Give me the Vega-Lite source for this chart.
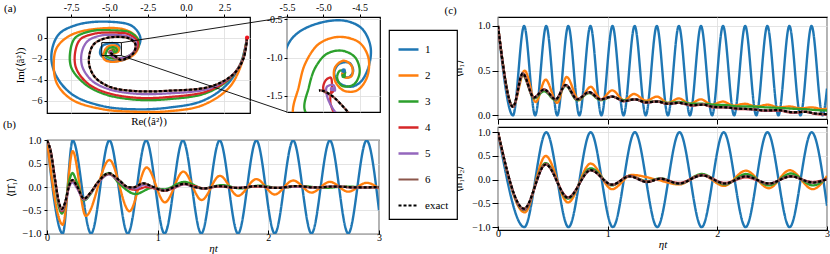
{
"$schema": "https://vega.github.io/schema/vega-lite/v6.json",
"padding": {"left": 2, "top": 1, "right": 0, "bottom": 0},
"autosize": {"type": "pad"},
"background": "white",
"config": {
  "font": "Liberation Serif",
  "view": {"stroke": "black", "strokeWidth": 1.2},
  "axis": {"domain": false, "grid": true, "gridColor": "#dddddd", "gridWidth": 0.8, "tickColor": "black", "tickSize": 3, "labelFont": "Liberation Serif", "labelFontSize": 10, "labelColor": "black", "titleFont": "Liberation Serif", "titleFontSize": 11, "titleFontWeight": "normal", "titleColor": "black", "labelPadding": 2, "labelFlush": false, "labelOverlap": false},
  "title": {"font": "Liberation Serif", "fontSize": 11, "fontWeight": "normal", "anchor": "start", "frame": "group", "offset": 3, "color": "black"},
  "legend": {"orient": "none", "legendX": 342, "legendY": 13, "strokeColor": "black", "strokeWidth": 1.2, "padding": 8, "fillColor": "white", "symbolType": "stroke", "symbolSize": 400, "symbolStrokeWidth": 2, "labelFont": "Liberation Serif", "labelFontSize": 11, "labelColor": "black", "rowPadding": 9, "labelOffset": 5, "cornerRadius": 0, "title": null}
},
"datasets": {
"spiral": [
{"s":"1","k":0,"re":3.98,"im":0},{"s":"1","k":1,"re":3.54,"im":-2.53},{"s":"1","k":2,"re":2.57,"im":-4.6},{"s":"1","k":3,"re":1.04,"im":-6.03},{"s":"1","k":4,"re":-1.13,"im":-6.66},{"s":"1","k":5,"re":-3.31,"im":-6.82},{"s":"1","k":6,"re":-5.48,"im":-6.5},{"s":"1","k":7,"re":-7.44,"im":-5.39},{"s":"1","k":8,"re":-8.52,"im":-3.49},{"s":"1","k":9,"re":-8.78,"im":-1.58},{"s":"1","k":10,"re":-8.3,"im":0.32},{"s":"1","k":11,"re":-7.0,"im":1.27},{"s":"1","k":12,"re":-5.04,"im":1.52},{"s":"1","k":13,"re":-3.52,"im":1.11},{"s":"1","k":14,"re":-2.98,"im":0},{"s":"1","k":15,"re":-3.2,"im":-1.11},{"s":"1","k":16,"re":-3.85,"im":-1.96},{"s":"1","k":17,"re":-4.83,"im":-2.22},{"s":"1","k":18,"re":-5.59,"im":-1.58},{"s":"1","k":19,"re":-5.5,"im":-0.86},{"s":"1","k":20,"re":-5.34,"im":-0.67},{"s":"1","k":21,"re":-5.02,"im":-0.54},{"s":"1","k":22,"re":-4.7,"im":-0.52},{"s":"1","k":23,"re":-4.47,"im":-0.62},{"s":"1","k":24,"re":-4.35,"im":-0.86},{"s":"1","k":25,"re":-4.38,"im":-1.13},{"s":"1","k":26,"re":-4.49,"im":-1.32},{"s":"1","k":27,"re":-4.62,"im":-1.38},{"s":"1","k":28,"re":-4.78,"im":-1.33},{"s":"1","k":29,"re":-4.85,"im":-1.2},{"s":"1","k":30,"re":-4.78,"im":-1.08},{"s":"1","k":31,"re":-4.64,"im":-1.07},{"s":"1","k":32,"re":-4.59,"im":-1.18},{"s":"1","k":33,"re":-4.66,"im":-1.26},{"s":"1","k":34,"re":-4.74,"im":-1.22},{"s":"1","k":35,"re":-4.72,"im":-1.19},
{"s":"2","k":0,"re":3.98,"im":0},{"s":"2","k":1,"re":3.61,"im":-2.53},{"s":"2","k":2,"re":2.78,"im":-4.8},{"s":"2","k":3,"re":1.04,"im":-6.45},{"s":"2","k":4,"re":-1.13,"im":-7.0},{"s":"2","k":5,"re":-3.31,"im":-7.05},{"s":"2","k":6,"re":-5.48,"im":-6.8},{"s":"2","k":7,"re":-7.44,"im":-5.9},{"s":"2","k":8,"re":-8.41,"im":-4.4},{"s":"2","k":9,"re":-8.63,"im":-2.5},{"s":"2","k":10,"re":-8.41,"im":-0.9},{"s":"2","k":11,"re":-7.44,"im":0.3},{"s":"2","k":12,"re":-5.48,"im":0.89},{"s":"2","k":13,"re":-3.96,"im":0.75},{"s":"2","k":14,"re":-3.2,"im":0},{"s":"2","k":15,"re":-3.09,"im":-0.79},{"s":"2","k":16,"re":-3.4,"im":-1.6},{"s":"2","k":17,"re":-4.07,"im":-2.1},{"s":"2","k":18,"re":-4.83,"im":-2.3},{"s":"2","k":19,"re":-5.3,"im":-2.1},{"s":"2","k":20,"re":-5.42,"im":-1.72},{"s":"2","k":21,"re":-5.34,"im":-1.39},{"s":"2","k":22,"re":-5.25,"im":-1.08},{"s":"2","k":23,"re":-5.06,"im":-0.82},{"s":"2","k":24,"re":-4.79,"im":-0.73},{"s":"2","k":25,"re":-4.51,"im":-0.8},{"s":"2","k":26,"re":-4.38,"im":-1.0},{"s":"2","k":27,"re":-4.4,"im":-1.26},{"s":"2","k":28,"re":-4.54,"im":-1.43},{"s":"2","k":29,"re":-4.72,"im":-1.43},{"s":"2","k":30,"re":-4.84,"im":-1.3},{"s":"2","k":31,"re":-4.84,"im":-1.13},{"s":"2","k":32,"re":-4.72,"im":-1.04},{"s":"2","k":33,"re":-4.61,"im":-1.11},{"s":"2","k":34,"re":-4.61,"im":-1.24},{"s":"2","k":35,"re":-4.7,"im":-1.26},{"s":"2","k":36,"re":-4.74,"im":-1.21},{"s":"2","k":37,"re":-4.72,"im":-1.19},
{"s":"3","k":0,"re":3.98,"im":0},{"s":"3","k":1,"re":3.61,"im":-2.3},{"s":"3","k":2,"re":2.78,"im":-4.0},{"s":"3","k":3,"re":1.26,"im":-5.3},{"s":"3","k":4,"re":-1.13,"im":-5.85},{"s":"3","k":5,"re":-3.31,"im":-5.9},{"s":"3","k":6,"re":-5.26,"im":-5.4},{"s":"3","k":7,"re":-6.57,"im":-4.44},{"s":"3","k":8,"re":-7.48,"im":-2.86},{"s":"3","k":9,"re":-7.55,"im":-1.27},{"s":"3","k":10,"re":-7.22,"im":0},{"s":"3","k":11,"re":-6.13,"im":0.64},{"s":"3","k":12,"re":-4.83,"im":0.7},{"s":"3","k":13,"re":-3.63,"im":0.48},{"s":"3","k":14,"re":-3.09,"im":-0.31},{"s":"3","k":15,"re":-3.2,"im":-1.11},{"s":"3","k":16,"re":-3.7,"im":-1.7},{"s":"3","k":17,"re":-4.3,"im":-1.95},{"s":"3","k":18,"re":-4.9,"im":-1.95},{"s":"3","k":19,"re":-5.25,"im":-1.7},{"s":"3","k":20,"re":-5.2,"im":-1.39},{"s":"3","k":21,"re":-5.11,"im":-1.13},{"s":"3","k":22,"re":-4.95,"im":-0.95},{"s":"3","k":23,"re":-4.74,"im":-0.91},{"s":"3","k":24,"re":-4.56,"im":-1.0},{"s":"3","k":25,"re":-4.5,"im":-1.19},{"s":"3","k":26,"re":-4.58,"im":-1.35},{"s":"3","k":27,"re":-4.74,"im":-1.37},{"s":"3","k":28,"re":-4.81,"im":-1.26},{"s":"3","k":29,"re":-4.77,"im":-1.17},{"s":"3","k":30,"re":-4.7,"im":-1.19},{"s":"3","k":31,"re":-4.72,"im":-1.24},
{"s":"4","k":0,"re":3.98,"im":0},{"s":"4","k":1,"re":3.65,"im":-2.2},{"s":"4","k":2,"re":2.89,"im":-3.8},{"s":"4","k":3,"re":1.37,"im":-5.1},{"s":"4","k":4,"re":-1.13,"im":-5.65},{"s":"4","k":5,"re":-3.31,"im":-5.71},{"s":"4","k":6,"re":-5.26,"im":-5.2},{"s":"4","k":7,"re":-6.46,"im":-4.3},{"s":"4","k":8,"re":-7.18,"im":-2.86},{"s":"4","k":9,"re":-7.22,"im":-1.27},{"s":"4","k":10,"re":-6.89,"im":-0.15},{"s":"4","k":11,"re":-5.91,"im":0.4},{"s":"4","k":12,"re":-4.83,"im":0.48},{"s":"4","k":13,"re":-3.74,"im":0.32},{"s":"4","k":14,"re":-3.15,"im":-0.4},{"s":"4","k":15,"re":-3.26,"im":-1.2},{"s":"4","k":16,"re":-3.8,"im":-1.8},{"s":"4","k":17,"re":-4.4,"im":-2.0},{"s":"4","k":18,"re":-4.75,"im":-1.85},{"s":"4","k":19,"re":-4.9,"im":-1.6},{"s":"4","k":20,"re":-4.88,"im":-1.35},{"s":"4","k":21,"re":-4.9,"im":-1.26},{"s":"4","k":22,"re":-4.97,"im":-1.3},{"s":"4","k":23,"re":-5.0,"im":-1.41},{"s":"4","k":24,"re":-4.93,"im":-1.48},{"s":"4","k":25,"re":-4.86,"im":-1.43},{"s":"4","k":26,"re":-4.88,"im":-1.4},
{"s":"5","k":0,"re":3.98,"im":0},{"s":"5","k":1,"re":3.7,"im":-2.1},{"s":"5","k":2,"re":3.0,"im":-3.6},{"s":"5","k":3,"re":1.48,"im":-4.85},{"s":"5","k":4,"re":-1.13,"im":-5.3},{"s":"5","k":5,"re":-3.31,"im":-5.33},{"s":"5","k":6,"re":-5.04,"im":-4.9},{"s":"5","k":7,"re":-6.13,"im":-4.1},{"s":"5","k":8,"re":-6.78,"im":-2.7},{"s":"5","k":9,"re":-6.78,"im":-1.27},{"s":"5","k":10,"re":-6.4,"im":-0.3},{"s":"5","k":11,"re":-5.59,"im":0.2},{"s":"5","k":12,"re":-4.72,"im":0.26},{"s":"5","k":13,"re":-3.74,"im":0.1},{"s":"5","k":14,"re":-3.26,"im":-0.5},{"s":"5","k":15,"re":-3.4,"im":-1.3},{"s":"5","k":16,"re":-3.9,"im":-1.85},{"s":"5","k":17,"re":-4.45,"im":-1.95},{"s":"5","k":18,"re":-4.8,"im":-1.75},{"s":"5","k":19,"re":-4.95,"im":-1.5},{"s":"5","k":20,"re":-4.95,"im":-1.38},{"s":"5","k":21,"re":-4.86,"im":-1.36},{"s":"5","k":22,"re":-4.84,"im":-1.43},{"s":"5","k":23,"re":-4.88,"im":-1.41},
{"s":"6","k":0,"re":3.98,"im":0},{"s":"6","k":1,"re":3.74,"im":-2.0},{"s":"6","k":2,"re":3.07,"im":-3.5},{"s":"6","k":3,"re":1.59,"im":-4.65},{"s":"6","k":4,"re":-1.13,"im":-5.05},{"s":"6","k":5,"re":-3.31,"im":-5.08},{"s":"6","k":6,"re":-4.94,"im":-4.7},{"s":"6","k":7,"re":-5.91,"im":-3.81},{"s":"6","k":8,"re":-6.3,"im":-2.7},{"s":"6","k":9,"re":-6.3,"im":-1.58},{"s":"6","k":10,"re":-6.02,"im":-0.63},{"s":"6","k":11,"re":-5.37,"im":-0.1},{"s":"6","k":12,"re":-4.61,"im":0.07},{"s":"6","k":13,"re":-3.74,"im":-0.06},{"s":"6","k":14,"re":-3.31,"im":-0.6},{"s":"6","k":15,"re":-3.4,"im":-1.4},{"s":"6","k":16,"re":-3.85,"im":-1.95},{"s":"6","k":17,"re":-4.3,"im":-2.1},{"s":"6","k":18,"re":-4.65,"im":-1.72},{"s":"6","k":19,"re":-4.88,"im":-1.5},{"s":"6","k":20,"re":-5.02,"im":-1.43},{"s":"6","k":21,"re":-5.06,"im":-1.43},
{"s":"exact","k":0,"re":3.98,"im":0},{"s":"exact","k":1,"re":3.74,"im":-2.0},{"s":"exact","k":2,"re":3.07,"im":-3.5},{"s":"exact","k":3,"re":1.59,"im":-4.65},{"s":"exact","k":4,"re":-1.13,"im":-5.05},{"s":"exact","k":5,"re":-3.31,"im":-5.08},{"s":"exact","k":6,"re":-4.94,"im":-4.7},{"s":"exact","k":7,"re":-5.91,"im":-3.81},{"s":"exact","k":8,"re":-6.3,"im":-2.7},{"s":"exact","k":9,"re":-6.3,"im":-1.58},{"s":"exact","k":10,"re":-6.02,"im":-0.63},{"s":"exact","k":11,"re":-5.37,"im":-0.1},{"s":"exact","k":12,"re":-4.61,"im":0.07},{"s":"exact","k":13,"re":-3.74,"im":-0.06},{"s":"exact","k":14,"re":-3.31,"im":-0.6},{"s":"exact","k":15,"re":-3.4,"im":-1.4},{"s":"exact","k":16,"re":-3.85,"im":-1.95},{"s":"exact","k":17,"re":-4.3,"im":-2.1},{"s":"exact","k":18,"re":-4.65,"im":-1.72},{"s":"exact","k":19,"re":-4.88,"im":-1.5},{"s":"exact","k":20,"re":-5.02,"im":-1.43},{"s":"exact","k":21,"re":-5.06,"im":-1.43}
],
"ends": [{"s":"1","re":-4.72,"im":-1.17},{"s":"3","re":-4.72,"im":-1.24},{"s":"5","re":-4.88,"im":-1.41}],
"pi": [
{"s":"1","t":0,"v":1},{"s":"1","t":0.142,"v":-1},{"s":"1","t":0.232,"v":1},{"s":"1","t":0.398,"v":-1},{"s":"1","t":0.564,"v":1},{"s":"1","t":0.73,"v":-1},{"s":"1","t":0.896,"v":1},{"s":"1","t":1.062,"v":-1},{"s":"1","t":1.228,"v":1},{"s":"1","t":1.394,"v":-1},{"s":"1","t":1.56,"v":1},{"s":"1","t":1.726,"v":-1},{"s":"1","t":1.892,"v":1},{"s":"1","t":2.058,"v":-1},{"s":"1","t":2.224,"v":1},{"s":"1","t":2.39,"v":-1},{"s":"1","t":2.556,"v":1},{"s":"1","t":2.722,"v":-1},{"s":"1","t":2.888,"v":1},{"s":"1","t":3,"v":-0.5},
{"s":"2","t":0,"v":1},{"s":"2","t":0.142,"v":-0.81},{"s":"2","t":0.232,"v":0.77},{"s":"2","t":0.35,"v":-0.62},{"s":"2","t":0.564,"v":0.58},{"s":"2","t":0.745,"v":-0.52},{"s":"2","t":0.9,"v":0.42},{"s":"2","t":1.065,"v":-0.33},{"s":"2","t":1.232,"v":0.33},{"s":"2","t":1.397,"v":-0.28},{"s":"2","t":1.562,"v":0.24},{"s":"2","t":1.726,"v":-0.19},{"s":"2","t":1.892,"v":0.17},{"s":"2","t":2.058,"v":-0.16},{"s":"2","t":2.224,"v":0.14},{"s":"2","t":2.39,"v":-0.12},{"s":"2","t":2.556,"v":0.11},{"s":"2","t":2.722,"v":-0.1},{"s":"2","t":2.888,"v":0.09},{"s":"2","t":3,"v":-0.03},
{"s":"3","t":0,"v":1},{"s":"3","t":0.035,"v":0.74},{"s":"3","t":0.07,"v":0.15},{"s":"3","t":0.105,"v":-0.4},{"s":"3","t":0.135,"v":-0.57},{"s":"3","t":0.165,"v":-0.35},{"s":"3","t":0.2,"v":0.12},{"s":"3","t":0.23,"v":0.3},{"s":"3","t":0.27,"v":0.1},{"s":"3","t":0.335,"v":-0.29},{"s":"3","t":0.39,"v":-0.16},{"s":"3","t":0.46,"v":0.1},{"s":"3","t":0.56,"v":0.3},{"s":"3","t":0.65,"v":0.08},{"s":"3","t":0.8,"v":-0.15},{"s":"3","t":0.95,"v":-0.02},{"s":"3","t":1.06,"v":-0.05},{"s":"3","t":1.24,"v":0.11},{"s":"3","t":1.42,"v":-0.03},{"s":"3","t":1.58,"v":0.04},{"s":"3","t":1.75,"v":-0.03},{"s":"3","t":1.92,"v":0.03},{"s":"3","t":2.1,"v":-0.02},{"s":"3","t":2.3,"v":0.02},{"s":"3","t":2.5,"v":-0.02},{"s":"3","t":2.7,"v":0.01},{"s":"3","t":2.9,"v":-0.01},{"s":"3","t":3,"v":0},
{"s":"4","t":0,"v":1},{"s":"4","t":0.035,"v":0.75},{"s":"4","t":0.07,"v":0.2},{"s":"4","t":0.105,"v":-0.32},{"s":"4","t":0.135,"v":-0.52},{"s":"4","t":0.165,"v":-0.35},{"s":"4","t":0.2,"v":0.02},{"s":"4","t":0.23,"v":0.15},{"s":"4","t":0.27,"v":0.0},{"s":"4","t":0.335,"v":-0.26},{"s":"4","t":0.39,"v":-0.14},{"s":"4","t":0.46,"v":0.1},{"s":"4","t":0.56,"v":0.28},{"s":"4","t":0.65,"v":0.12},{"s":"4","t":0.75,"v":-0.04},{"s":"4","t":0.8,"v":-0.06},{"s":"4","t":0.9,"v":0.0},{"s":"4","t":1.0,"v":-0.05},{"s":"4","t":1.06,"v":-0.08},{"s":"4","t":1.15,"v":-0.02},{"s":"4","t":1.24,"v":0.06},{"s":"4","t":1.33,"v":0.02},{"s":"4","t":1.42,"v":-0.03},{"s":"4","t":1.55,"v":0.01},{"s":"4","t":1.72,"v":-0.02},{"s":"4","t":1.9,"v":0.01},{"s":"4","t":2.07,"v":-0.02},{"s":"4","t":2.25,"v":0.01},{"s":"4","t":2.43,"v":-0.01},{"s":"4","t":2.6,"v":0.01},{"s":"4","t":2.8,"v":-0.01},{"s":"4","t":3,"v":-0.01},
{"s":"5","t":0,"v":1},{"s":"5","t":0.035,"v":0.75},{"s":"5","t":0.07,"v":0.2},{"s":"5","t":0.105,"v":-0.32},{"s":"5","t":0.135,"v":-0.5},{"s":"5","t":0.165,"v":-0.33},{"s":"5","t":0.2,"v":0.0},{"s":"5","t":0.23,"v":0.1},{"s":"5","t":0.27,"v":-0.02},{"s":"5","t":0.335,"v":-0.27},{"s":"5","t":0.39,"v":-0.14},{"s":"5","t":0.46,"v":0.08},{"s":"5","t":0.56,"v":0.27},{"s":"5","t":0.65,"v":0.13},{"s":"5","t":0.73,"v":-0.01},{"s":"5","t":0.8,"v":-0.03},{"s":"5","t":0.88,"v":0.05},{"s":"5","t":0.96,"v":-0.01},{"s":"5","t":1.06,"v":-0.07},{"s":"5","t":1.15,"v":-0.01},{"s":"5","t":1.24,"v":0.06},{"s":"5","t":1.33,"v":0.0},{"s":"5","t":1.42,"v":-0.03},{"s":"5","t":1.55,"v":0.02},{"s":"5","t":1.72,"v":-0.02},{"s":"5","t":1.9,"v":0.02},{"s":"5","t":2.07,"v":-0.02},{"s":"5","t":2.25,"v":0.01},{"s":"5","t":2.43,"v":-0.01},{"s":"5","t":2.6,"v":0.01},{"s":"5","t":2.8,"v":-0.01},{"s":"5","t":3,"v":0},
{"s":"6","t":0,"v":1},{"s":"6","t":0.035,"v":0.75},{"s":"6","t":0.07,"v":0.2},{"s":"6","t":0.105,"v":-0.3},{"s":"6","t":0.135,"v":-0.48},{"s":"6","t":0.165,"v":-0.32},{"s":"6","t":0.2,"v":0.03},{"s":"6","t":0.23,"v":0.14},{"s":"6","t":0.27,"v":0.02},{"s":"6","t":0.335,"v":-0.25},{"s":"6","t":0.39,"v":-0.13},{"s":"6","t":0.46,"v":0.1},{"s":"6","t":0.56,"v":0.28},{"s":"6","t":0.65,"v":0.15},{"s":"6","t":0.73,"v":0.0},{"s":"6","t":0.78,"v":-0.01},{"s":"6","t":0.87,"v":0.08},{"s":"6","t":0.96,"v":0.0},{"s":"6","t":1.06,"v":-0.08},{"s":"6","t":1.15,"v":0.0},{"s":"6","t":1.24,"v":0.07},{"s":"6","t":1.33,"v":0.0},{"s":"6","t":1.42,"v":-0.03},{"s":"6","t":1.55,"v":0.02},{"s":"6","t":1.72,"v":-0.02},{"s":"6","t":1.9,"v":0.02},{"s":"6","t":2.07,"v":-0.02},{"s":"6","t":2.25,"v":0.02},{"s":"6","t":2.43,"v":-0.01},{"s":"6","t":2.6,"v":0.01},{"s":"6","t":2.8,"v":-0.01},{"s":"6","t":3,"v":0},
{"s":"exact","t":0,"v":1},{"s":"exact","t":0.035,"v":0.75},{"s":"exact","t":0.07,"v":0.2},{"s":"exact","t":0.105,"v":-0.3},{"s":"exact","t":0.135,"v":-0.47},{"s":"exact","t":0.165,"v":-0.32},{"s":"exact","t":0.2,"v":0.03},{"s":"exact","t":0.23,"v":0.15},{"s":"exact","t":0.27,"v":0.02},{"s":"exact","t":0.335,"v":-0.25},{"s":"exact","t":0.39,"v":-0.13},{"s":"exact","t":0.46,"v":0.1},{"s":"exact","t":0.56,"v":0.3},{"s":"exact","t":0.65,"v":0.15},{"s":"exact","t":0.73,"v":0.0},{"s":"exact","t":0.78,"v":-0.01},{"s":"exact","t":0.87,"v":0.08},{"s":"exact","t":0.96,"v":0.0},{"s":"exact","t":1.06,"v":-0.08},{"s":"exact","t":1.15,"v":0.0},{"s":"exact","t":1.24,"v":0.07},{"s":"exact","t":1.33,"v":0.0},{"s":"exact","t":1.42,"v":-0.03},{"s":"exact","t":1.55,"v":0.02},{"s":"exact","t":1.72,"v":-0.02},{"s":"exact","t":1.9,"v":0.02},{"s":"exact","t":2.07,"v":-0.02},{"s":"exact","t":2.25,"v":0.02},{"s":"exact","t":2.43,"v":-0.01},{"s":"exact","t":2.6,"v":0.01},{"s":"exact","t":2.8,"v":-0.01},{"s":"exact","t":3,"v":0}
],
"n1": [
{"s":"1","t":0,"v":1},{"s":"1","t":0.137,"v":0},{"s":"1","t":0.238,"v":1},{"s":"1","t":0.339,"v":0},{"s":"1","t":0.44,"v":1},{"s":"1","t":0.54,"v":0},{"s":"1","t":0.641,"v":1},{"s":"1","t":0.742,"v":0},{"s":"1","t":0.843,"v":1},{"s":"1","t":0.943,"v":0},{"s":"1","t":1.044,"v":1},{"s":"1","t":1.145,"v":0},{"s":"1","t":1.246,"v":1},{"s":"1","t":1.347,"v":0},{"s":"1","t":1.448,"v":1},{"s":"1","t":1.549,"v":0},{"s":"1","t":1.649,"v":1},{"s":"1","t":1.75,"v":0},{"s":"1","t":1.851,"v":1},{"s":"1","t":1.952,"v":0},{"s":"1","t":2.052,"v":1},{"s":"1","t":2.153,"v":0},{"s":"1","t":2.254,"v":1},{"s":"1","t":2.355,"v":0},{"s":"1","t":2.456,"v":1},{"s":"1","t":2.557,"v":0},{"s":"1","t":2.657,"v":1},{"s":"1","t":2.758,"v":0},{"s":"1","t":2.859,"v":1},{"s":"1","t":2.96,"v":0},{"s":"1","t":3,"v":0.3},
{"s":"2","t":0,"v":1},{"s":"2","t":0.137,"v":0.1},{"s":"2","t":0.243,"v":0.5},{"s":"2","t":0.344,"v":0.15},{"s":"2","t":0.434,"v":0.4},{"s":"2","t":0.54,"v":0.14},{"s":"2","t":0.626,"v":0.43},{"s":"2","t":0.738,"v":0.17},{"s":"2","t":0.845,"v":0.32},{"s":"2","t":0.94,"v":0.18},{"s":"2","t":1.042,"v":0.28},{"s":"2","t":1.149,"v":0.17},{"s":"2","t":1.24,"v":0.24},{"s":"2","t":1.35,"v":0.165},{"s":"2","t":1.45,"v":0.21},{"s":"2","t":1.55,"v":0.14},{"s":"2","t":1.65,"v":0.19},{"s":"2","t":1.75,"v":0.13},{"s":"2","t":1.85,"v":0.18},{"s":"2","t":1.95,"v":0.12},{"s":"2","t":2.05,"v":0.155},{"s":"2","t":2.15,"v":0.11},{"s":"2","t":2.25,"v":0.13},{"s":"2","t":2.36,"v":0.1},{"s":"2","t":2.46,"v":0.12},{"s":"2","t":2.56,"v":0.09},{"s":"2","t":2.66,"v":0.1},{"s":"2","t":2.76,"v":0.08},{"s":"2","t":2.86,"v":0.09},{"s":"2","t":2.96,"v":0.07},{"s":"2","t":3,"v":0.075},
{"s":"3","t":0,"v":1},{"s":"3","t":0.137,"v":0.1},{"s":"3","t":0.225,"v":0.45},{"s":"3","t":0.33,"v":0.19},{"s":"3","t":0.42,"v":0.27},{"s":"3","t":0.526,"v":0.17},{"s":"3","t":0.617,"v":0.33},{"s":"3","t":0.723,"v":0.17},{"s":"3","t":0.83,"v":0.25},{"s":"3","t":0.936,"v":0.17},{"s":"3","t":1.042,"v":0.21},{"s":"3","t":1.15,"v":0.17},{"s":"3","t":1.25,"v":0.18},{"s":"3","t":1.35,"v":0.15},{"s":"3","t":1.45,"v":0.16},{"s":"3","t":1.55,"v":0.14},{"s":"3","t":1.65,"v":0.15},{"s":"3","t":1.77,"v":0.13},{"s":"3","t":1.87,"v":0.13},{"s":"3","t":1.97,"v":0.12},{"s":"3","t":2.08,"v":0.115},{"s":"3","t":2.2,"v":0.1},{"s":"3","t":2.3,"v":0.1},{"s":"3","t":2.45,"v":0.09},{"s":"3","t":2.55,"v":0.085},{"s":"3","t":2.69,"v":0.075},{"s":"3","t":2.8,"v":0.07},{"s":"3","t":2.9,"v":0.06},{"s":"3","t":3,"v":0.055},
{"s":"4","t":0,"v":1},{"s":"4","t":0.137,"v":0.095},{"s":"4","t":0.225,"v":0.46},{"s":"4","t":0.328,"v":0.2},{"s":"4","t":0.42,"v":0.29},{"s":"4","t":0.526,"v":0.18},{"s":"4","t":0.617,"v":0.34},{"s":"4","t":0.723,"v":0.18},{"s":"4","t":0.83,"v":0.26},{"s":"4","t":0.936,"v":0.18},{"s":"4","t":1.042,"v":0.21},{"s":"4","t":1.15,"v":0.16},{"s":"4","t":1.25,"v":0.18},{"s":"4","t":1.35,"v":0.145},{"s":"4","t":1.45,"v":0.155},{"s":"4","t":1.55,"v":0.13},{"s":"4","t":1.65,"v":0.14},{"s":"4","t":1.77,"v":0.11},{"s":"4","t":1.87,"v":0.12},{"s":"4","t":1.97,"v":0.09},{"s":"4","t":2.08,"v":0.09},{"s":"4","t":2.2,"v":0.07},{"s":"4","t":2.3,"v":0.07},{"s":"4","t":2.45,"v":0.05},{"s":"4","t":2.55,"v":0.055},{"s":"4","t":2.69,"v":0.03},{"s":"4","t":2.8,"v":0.04},{"s":"4","t":2.9,"v":0.015},{"s":"4","t":3,"v":0.01},
{"s":"5","t":0,"v":1},{"s":"5","t":0.137,"v":0.096},{"s":"5","t":0.225,"v":0.47},{"s":"5","t":0.328,"v":0.2},{"s":"5","t":0.42,"v":0.29},{"s":"5","t":0.526,"v":0.18},{"s":"5","t":0.617,"v":0.34},{"s":"5","t":0.723,"v":0.18},{"s":"5","t":0.83,"v":0.26},{"s":"5","t":0.936,"v":0.18},{"s":"5","t":1.042,"v":0.21},{"s":"5","t":1.15,"v":0.16},{"s":"5","t":1.25,"v":0.18},{"s":"5","t":1.35,"v":0.145},{"s":"5","t":1.45,"v":0.155},{"s":"5","t":1.55,"v":0.13},{"s":"5","t":1.65,"v":0.14},{"s":"5","t":1.77,"v":0.115},{"s":"5","t":1.87,"v":0.12},{"s":"5","t":1.97,"v":0.095},{"s":"5","t":2.08,"v":0.09},{"s":"5","t":2.2,"v":0.075},{"s":"5","t":2.3,"v":0.07},{"s":"5","t":2.45,"v":0.055},{"s":"5","t":2.55,"v":0.06},{"s":"5","t":2.69,"v":0.035},{"s":"5","t":2.8,"v":0.04},{"s":"5","t":2.9,"v":0.02},{"s":"5","t":3,"v":0.015},
{"s":"6","t":0,"v":1},{"s":"6","t":0.137,"v":0.096},{"s":"6","t":0.225,"v":0.47},{"s":"6","t":0.328,"v":0.2},{"s":"6","t":0.42,"v":0.29},{"s":"6","t":0.526,"v":0.18},{"s":"6","t":0.617,"v":0.34},{"s":"6","t":0.723,"v":0.18},{"s":"6","t":0.83,"v":0.26},{"s":"6","t":0.936,"v":0.18},{"s":"6","t":1.042,"v":0.21},{"s":"6","t":1.15,"v":0.16},{"s":"6","t":1.25,"v":0.18},{"s":"6","t":1.35,"v":0.145},{"s":"6","t":1.45,"v":0.155},{"s":"6","t":1.55,"v":0.13},{"s":"6","t":1.65,"v":0.14},{"s":"6","t":1.77,"v":0.115},{"s":"6","t":1.87,"v":0.12},{"s":"6","t":1.97,"v":0.095},{"s":"6","t":2.08,"v":0.09},{"s":"6","t":2.2,"v":0.075},{"s":"6","t":2.3,"v":0.07},{"s":"6","t":2.45,"v":0.055},{"s":"6","t":2.55,"v":0.06},{"s":"6","t":2.69,"v":0.035},{"s":"6","t":2.8,"v":0.04},{"s":"6","t":2.9,"v":0.02},{"s":"6","t":3,"v":0.015},
{"s":"exact","t":0,"v":1},{"s":"exact","t":0.137,"v":0.096},{"s":"exact","t":0.225,"v":0.47},{"s":"exact","t":0.328,"v":0.2},{"s":"exact","t":0.42,"v":0.29},{"s":"exact","t":0.526,"v":0.18},{"s":"exact","t":0.617,"v":0.34},{"s":"exact","t":0.723,"v":0.18},{"s":"exact","t":0.83,"v":0.26},{"s":"exact","t":0.936,"v":0.18},{"s":"exact","t":1.042,"v":0.21},{"s":"exact","t":1.15,"v":0.16},{"s":"exact","t":1.25,"v":0.18},{"s":"exact","t":1.35,"v":0.145},{"s":"exact","t":1.45,"v":0.155},{"s":"exact","t":1.55,"v":0.13},{"s":"exact","t":1.65,"v":0.14},{"s":"exact","t":1.77,"v":0.115},{"s":"exact","t":1.87,"v":0.12},{"s":"exact","t":1.97,"v":0.095},{"s":"exact","t":2.08,"v":0.09},{"s":"exact","t":2.2,"v":0.075},{"s":"exact","t":2.3,"v":0.07},{"s":"exact","t":2.45,"v":0.055},{"s":"exact","t":2.55,"v":0.06},{"s":"exact","t":2.69,"v":0.035},{"s":"exact","t":2.8,"v":0.04},{"s":"exact","t":2.9,"v":0.02},{"s":"exact","t":3,"v":0.015}
],
"n12": [
{"s":"1","t":0,"v":1},{"s":"1","t":0.24,"v":-1},{"s":"1","t":0.44,"v":1},{"s":"1","t":0.643,"v":-1},{"s":"1","t":0.845,"v":1},{"s":"1","t":1.047,"v":-1},{"s":"1","t":1.248,"v":1},{"s":"1","t":1.452,"v":-1},{"s":"1","t":1.655,"v":1},{"s":"1","t":1.857,"v":-1},{"s":"1","t":2.058,"v":1},{"s":"1","t":2.258,"v":-1},{"s":"1","t":2.457,"v":1},{"s":"1","t":2.659,"v":-1},{"s":"1","t":2.86,"v":1},{"s":"1","t":3,"v":-0.55},
{"s":"2","t":0,"v":1},{"s":"2","t":0.243,"v":-0.69},{"s":"2","t":0.435,"v":0.5},{"s":"2","t":0.638,"v":-0.48},{"s":"2","t":0.845,"v":0.34},{"s":"2","t":1.04,"v":-0.2},{"s":"2","t":1.22,"v":0.1},{"s":"2","t":1.45,"v":0.0},{"s":"2","t":1.65,"v":-0.1},{"s":"2","t":1.86,"v":0.1},{"s":"2","t":2.06,"v":-0.13},{"s":"2","t":2.26,"v":0.19},{"s":"2","t":2.47,"v":-0.18},{"s":"2","t":2.66,"v":0.2},{"s":"2","t":2.87,"v":-0.2},{"s":"2","t":3,"v":0.08},
{"s":"3","t":0,"v":1},{"s":"3","t":0.237,"v":-0.64},{"s":"3","t":0.435,"v":0.35},{"s":"3","t":0.638,"v":-0.4},{"s":"3","t":0.845,"v":0.24},{"s":"3","t":1.04,"v":-0.12},{"s":"3","t":1.2,"v":0.08},{"s":"3","t":1.36,"v":-0.03},{"s":"3","t":1.48,"v":0.03},{"s":"3","t":1.65,"v":-0.09},{"s":"3","t":1.86,"v":0.12},{"s":"3","t":2.07,"v":-0.1},{"s":"3","t":2.26,"v":0.12},{"s":"3","t":2.47,"v":-0.12},{"s":"3","t":2.67,"v":0.13},{"s":"3","t":2.87,"v":-0.12},{"s":"3","t":3,"v":0.03},
{"s":"4","t":0,"v":1},{"s":"4","t":0.237,"v":-0.63},{"s":"4","t":0.435,"v":0.33},{"s":"4","t":0.638,"v":-0.37},{"s":"4","t":0.845,"v":0.2},{"s":"4","t":1.04,"v":-0.11},{"s":"4","t":1.2,"v":0.08},{"s":"4","t":1.36,"v":-0.04},{"s":"4","t":1.48,"v":0.02},{"s":"4","t":1.65,"v":-0.07},{"s":"4","t":1.86,"v":0.1},{"s":"4","t":2.07,"v":-0.07},{"s":"4","t":2.26,"v":0.05},{"s":"4","t":2.47,"v":-0.08},{"s":"4","t":2.67,"v":0.07},{"s":"4","t":2.87,"v":-0.05},{"s":"4","t":3,"v":0.02},
{"s":"5","t":0,"v":1},{"s":"5","t":0.237,"v":-0.62},{"s":"5","t":0.435,"v":0.32},{"s":"5","t":0.638,"v":-0.38},{"s":"5","t":0.845,"v":0.2},{"s":"5","t":1.04,"v":-0.105},{"s":"5","t":1.2,"v":0.07},{"s":"5","t":1.36,"v":-0.05},{"s":"5","t":1.48,"v":0.02},{"s":"5","t":1.65,"v":-0.08},{"s":"5","t":1.86,"v":0.09},{"s":"5","t":2.07,"v":-0.08},{"s":"5","t":2.26,"v":0.07},{"s":"5","t":2.47,"v":-0.08},{"s":"5","t":2.67,"v":0.07},{"s":"5","t":2.87,"v":-0.06},{"s":"5","t":3,"v":0.01},
{"s":"6","t":0,"v":1},{"s":"6","t":0.237,"v":-0.61},{"s":"6","t":0.435,"v":0.32},{"s":"6","t":0.638,"v":-0.38},{"s":"6","t":0.845,"v":0.2},{"s":"6","t":1.04,"v":-0.105},{"s":"6","t":1.2,"v":0.07},{"s":"6","t":1.36,"v":-0.05},{"s":"6","t":1.48,"v":0.02},{"s":"6","t":1.65,"v":-0.08},{"s":"6","t":1.86,"v":0.09},{"s":"6","t":2.07,"v":-0.08},{"s":"6","t":2.26,"v":0.07},{"s":"6","t":2.47,"v":-0.08},{"s":"6","t":2.67,"v":0.07},{"s":"6","t":2.87,"v":-0.06},{"s":"6","t":3,"v":0.01},
{"s":"exact","t":0,"v":1},{"s":"exact","t":0.237,"v":-0.61},{"s":"exact","t":0.435,"v":0.32},{"s":"exact","t":0.638,"v":-0.38},{"s":"exact","t":0.845,"v":0.2},{"s":"exact","t":1.04,"v":-0.105},{"s":"exact","t":1.2,"v":0.07},{"s":"exact","t":1.36,"v":-0.05},{"s":"exact","t":1.48,"v":0.02},{"s":"exact","t":1.65,"v":-0.08},{"s":"exact","t":1.86,"v":0.09},{"s":"exact","t":2.07,"v":-0.08},{"s":"exact","t":2.26,"v":0.07},{"s":"exact","t":2.47,"v":-0.08},{"s":"exact","t":2.67,"v":0.07},{"s":"exact","t":2.87,"v":-0.06},{"s":"exact","t":3,"v":0.01}
]
},
"hconcat": [
 {
  "vconcat": [
   {
    "hconcat": [
     {
      "width": 203, "height": 96,
      "title": {"text": "(a)", "anchor": "start", "frame": "group", "orient": "top", "offset": -12, "dx": -43},
      "layer": [
       {
        "data": {"name": "spiral"},
        "mark": {"type": "line", "interpolate": "catmull-rom", "clip": true},
        "encoding": {
         "x": {"field": "re", "type": "quantitative", "scale": {"domain": [-9.07, 4.17], "nice": false, "zero": false}, "axis": {"orient": "top", "title": null, "values": [-7.5, -5, -2.5, 0, 2.5], "labelExpr": "replace(format(datum.value, '.1f'), '\u2212', '-')"}},
         "y": {"field": "im", "type": "quantitative", "scale": {"domain": [-7.17, 1.97], "nice": false, "zero": false}, "axis": {"title": "Im(⟨â²⟩)", "values": [2, 0, -2, -4, -6], "format": "d", "titlePadding": 6}},
         "order": {"field": "k", "type": "quantitative"},
         "color": {"field": "s", "type": "nominal", "scale": {"domain": ["1","2","3","4","5","6","exact"], "range": ["#1f77b4","#ff7f0e","#2ca02c","#d62728","#9467bd","#8c564b","#000000"]}, "legend": {"title": null}},
         "strokeDash": {"field": "s", "type": "nominal", "scale": {"domain": ["1","2","3","4","5","6","exact"], "range": [[1,0],[1,0],[1,0],[1,0],[1,0],[1,0],[3,2]]}, "legend": {"title": null}},
         "strokeWidth": {"field": "s", "type": "ordinal", "scale": {"domain": ["1","2","3","4","5","6","exact"], "range": [2.4,2.2,1.8,1.8,1.8,1.8,1.2]}, "legend": null}
        }
       },
       {
        "data": {"values": [{"re": -5.5, "re2": -4.22, "im": -1.71, "im2": -0.47}]},
        "mark": {"type": "rect", "filled": false, "color": "black", "strokeWidth": 1},
        "encoding": {
         "x": {"field": "re", "type": "quantitative", "axis": {"orient": "bottom", "title": "Re(⟨â²⟩)", "labels": false, "ticks": false, "grid": false, "titlePadding": 2}},
         "x2": {"field": "re2"},
         "y": {"field": "im", "type": "quantitative", "axis": {"title": "Im(⟨â²⟩)", "values": [2, 0, -2, -4, -6], "format": "d", "titlePadding": 6}},
         "y2": {"field": "im2"}
        }
       },
       {
        "data": {"values": [{"re": -4.22, "im": -0.47, "re2": 6.59, "im2": 1.97}, {"re": -4.22, "im": -1.71, "re2": 6.59, "im2": -7.08}]},
        "mark": {"type": "rule", "clip": false, "strokeWidth": 0.9, "color": "black"},
        "encoding": {
         "x": {"field": "re", "type": "quantitative", "axis": null},
         "x2": {"field": "re2"},
         "y": {"field": "im", "type": "quantitative", "axis": {"title": "Im(⟨â²⟩)", "values": [2, 0, -2, -4, -6], "format": "d", "titlePadding": 6}},
         "y2": {"field": "im2"}
        }
       },
       {
        "data": {"values": [{"re": 3.98, "im": 0}]},
        "mark": {"type": "point", "filled": true, "color": "#f0141e", "size": 18, "opacity": 1},
        "encoding": {
         "x": {"field": "re", "type": "quantitative", "axis": null},
         "y": {"field": "im", "type": "quantitative", "axis": {"title": "Im(⟨â²⟩)", "values": [2, 0, -2, -4, -6], "format": "d", "titlePadding": 6}}
        }
       }
      ],
      "resolve": {"axis": {"x": "independent"}}
     },
     {
      "width": 93, "height": 95,
      "layer": [
       {
        "data": {"name": "spiral"},
        "mark": {"type": "line", "interpolate": "catmull-rom", "clip": true},
        "encoding": {
         "x": {"field": "re", "type": "quantitative", "scale": {"domain": [-5.5, -4.22], "nice": false, "zero": false}, "axis": {"orient": "top", "title": null, "values": [-5.5, -5, -4.5], "labelExpr": "replace(format(datum.value, '.1f'), '\u2212', '-')"}},
         "y": {"field": "im", "type": "quantitative", "scale": {"domain": [-1.71, -0.47], "nice": false, "zero": false}, "axis": {"title": null, "values": [-0.5, -1, -1.5], "labelExpr": "replace(format(datum.value, '.1f'), '\u2212', '-')"}},
         "order": {"field": "k", "type": "quantitative"},
         "color": {"field": "s", "type": "nominal", "legend": {"title": null}},
         "strokeDash": {"field": "s", "type": "nominal", "legend": {"title": null}},
         "strokeWidth": {"field": "s", "type": "ordinal", "legend": null}
        }
       },
       {
        "data": {"name": "ends"},
        "mark": {"type": "point", "filled": true, "size": 22, "opacity": 1, "clip": true},
        "encoding": {
         "x": {"field": "re", "type": "quantitative"},
         "y": {"field": "im", "type": "quantitative"},
         "color": {"field": "s", "type": "nominal", "legend": {"title": null}}
        }
       }
      ]
     }
    ],
    "spacing": 37,
    "bounds": "flush"
   },
   {
    "width": 332, "height": 94,
    "title": {"text": "(b)", "anchor": "start", "frame": "group", "orient": "top", "offset": 5, "dx": -44},
    "data": {"name": "pi"},
    "mark": {"type": "line", "interpolate": "monotone", "clip": true},
    "encoding": {
     "x": {"field": "t", "type": "quantitative", "scale": {"domain": [0, 3], "nice": false}, "axis": {"title": "ηt", "titleFontStyle": "italic", "values": [0, 1, 2, 3], "format": "d", "tickSize": -4, "labelPadding": 2, "titlePadding": 0}},
     "y": {"field": "v", "type": "quantitative", "scale": {"domain": [-1.01, 1.01], "nice": false}, "axis": {"title": "⟨Π̂₁⟩", "values": [-1, -0.5, 0, 0.5, 1], "format": ".1f", "labelFontSize": 10.5, "labelPadding": 3, "titlePadding": 5}},
     "color": {"field": "s", "type": "nominal", "legend": {"title": null}},
     "strokeDash": {"field": "s", "type": "nominal", "legend": {"title": null}},
     "strokeWidth": {"field": "s", "type": "ordinal", "legend": null}
    }
   }
  ],
  "spacing": -9
 },
 {
  "vconcat": [
   {
    "width": 329, "height": 102,
    "layer": [
     {
      "data": {"name": "n1"},
      "mark": {"type": "line", "interpolate": "monotone", "clip": true},
      "encoding": {
       "x": {"field": "t", "type": "quantitative", "scale": {"domain": [0, 3], "nice": false}, "axis": {"title": null, "values": [0, 1, 2, 3], "labels": false, "tickSize": 5}},
       "y": {"field": "v", "type": "quantitative", "scale": {"domain": [-0.04, 1.1], "nice": false}, "axis": {"title": "⟨n̂₁⟩", "values": [0, 0.5, 1], "format": ".1f", "tickSize": 6, "titlePadding": 14}},
       "color": {"field": "s", "type": "nominal", "legend": {"title": null}},
       "strokeDash": {"field": "s", "type": "nominal", "legend": {"title": null}},
       "strokeWidth": {"field": "s", "type": "ordinal", "legend": null}
      }
     },
     {
      "data": {"values": [{"t": 0}]},
      "mark": {"type": "rule", "opacity": 0},
      "encoding": {
       "x": {"field": "t", "type": "quantitative", "axis": {"orient": "top", "title": "(c)", "labels": false, "ticks": false, "grid": false, "domain": false, "titleAngle": 0, "titleAlign": "left", "titleBaseline": "alphabetic", "titleX": -54, "titleY": -4, "titleFontSize": 11}}
      }
     }
    ],
    "resolve": {"axis": {"x": "independent"}}
   },
   {
    "width": 329, "height": 103,
    "layer": [
     {
      "data": {"name": "n12"},
      "mark": {"type": "line", "interpolate": "monotone", "clip": true},
      "encoding": {
       "x": {"field": "t", "type": "quantitative", "scale": {"domain": [0, 3], "nice": false}, "axis": {"title": "ηt", "titleFontStyle": "italic", "values": [0, 1, 2, 3], "format": "d", "tickSize": -4, "labelPadding": 2, "titlePadding": 0}},
       "y": {"field": "v", "type": "quantitative", "scale": {"domain": [-1.06, 1.11], "nice": false}, "axis": {"title": "⟨n̂₁n̂₂⟩", "values": [-1, -0.5, 0, 0.5, 1], "format": ".1f", "tickSize": 6, "titlePadding": 8}},
       "color": {"field": "s", "type": "nominal", "legend": {"title": null}},
       "strokeDash": {"field": "s", "type": "nominal", "legend": {"title": null}},
       "strokeWidth": {"field": "s", "type": "ordinal", "legend": null}
      }
     },
     {
      "data": {"values": [{"t": 0}]},
      "mark": {"type": "rule", "opacity": 0},
      "encoding": {
       "x": {"field": "t", "type": "quantitative", "axis": {"orient": "top", "title": "(d)", "labels": false, "ticks": false, "grid": false, "domain": false, "titleAngle": 0, "titleAlign": "left", "titleBaseline": "alphabetic", "titleX": -54, "titleY": -7, "titleFontSize": 11}}
      }
     }
    ],
    "resolve": {"axis": {"x": "independent"}}
   }
  ],
  "spacing": -16
 }
],
"spacing": 60
}
